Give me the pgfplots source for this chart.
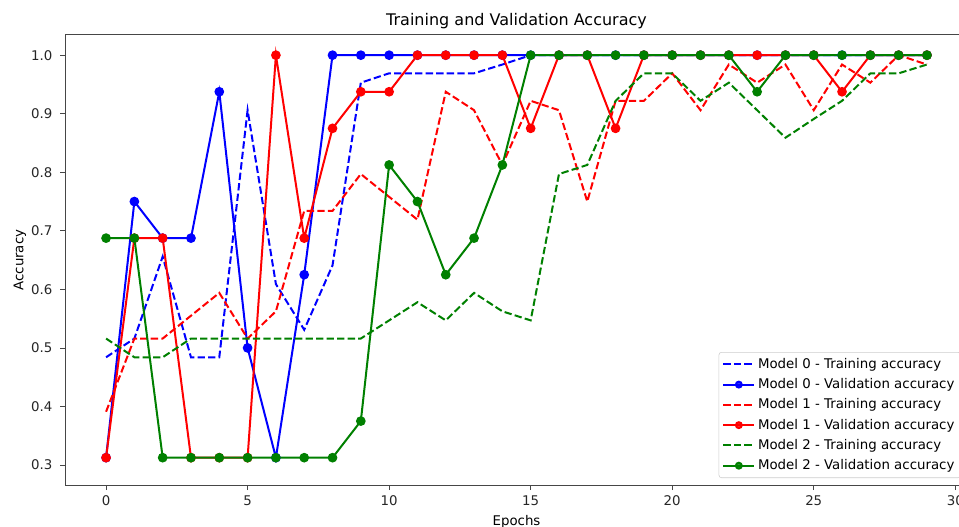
\documentclass[border=0pt]{standalone}
\usepackage{pgfplots}
\pgfplotsset{compat=1.18}
\usepackage{fontspec}
\setmainfont{DejaVu Sans}
\definecolor{mplgreen}{RGB}{0,128,0}
\definecolor{spine}{RGB}{70,70,70}
\begin{document}
\begin{tikzpicture}
\begin{axis}[
  scale only axis, width=677pt, height=338pt,
  xmin=-1.45, xmax=30.45, ymin=0.265, ymax=1.035,
  xtick={0,5,...,30}, ytick={0.3,0.4,...,1.01},
  /pgf/number format/assume math mode=true,
  yticklabel style={/pgf/number format/fixed,/pgf/number format/fixed zerofill,/pgf/number format/precision=1, xshift=-2.5pt},
  xticklabel style={yshift=-1pt},
  tick label style={font=\fontsize{10}{12}\selectfont, text=black!85},
  tick align=outside, major tick length=3.4pt,
  tick style={spine, line width=0.6pt},
  axis line style={spine, line width=0.6pt},
  xtick pos=bottom, ytick pos=left,
  title={Training and Validation Accuracy},
  title style={at={(axis description cs:0.5,1.012)}, anchor=center, font=\fontsize{12}{14}\selectfont},
  xlabel={Epochs},
  xlabel style={at={(axis description cs:0.5,-0.0665)}, anchor=north, inner sep=0pt, font=\fontsize{10}{12}\selectfont},
  ylabel={Accuracy},
  ylabel style={at={(axis description cs:-0.0499,0.5)}, anchor=center, font=\fontsize{10}{12}\selectfont},
  legend style={at={(axis description cs:1,0)}, anchor=south east, xshift=-5.5pt, yshift=5.6pt,
    font=\fontsize{10}{12}\selectfont, draw=black!20, rounded corners=2pt, fill=white, fill opacity=0.8, text opacity=1,
    row sep=2.1pt, inner sep=2.5pt},
  legend cell align=left,
  legend image code/.code={\draw[mark repeat=2,mark phase=2,#1, mark size=2.2pt] plot coordinates {(0cm,0cm)(0.41cm,0cm)(0.82cm,0cm)};},
  every axis plot/.append style={line width=1.5pt},
]
\addplot[blue, dash pattern=on 5.5pt off 2.4pt] coordinates {
(0,0.484)(1,0.516)(2,0.656)(3,0.484)(4,0.484)(5,0.906)(6,0.609)(7,0.531)(8,0.641)(9,0.953)
(10,0.969)(11,0.969)(12,0.969)(13,0.969)(14,0.984)(15,1.0)(16,1.0)(17,1.0)(18,1.0)(19,1.0)
(20,1.0)(21,1.0)(22,1.0)(23,1.0)(24,1.0)(25,1.0)(26,1.0)(27,1.0)(28,1.0)(29,1.0)};
\addlegendentry{Model 0 - Training accuracy}
\addplot[blue, mark=*, mark size=2.85pt] coordinates {
(0,0.3125)(1,0.75)(2,0.6875)(3,0.6875)(4,0.9375)(5,0.5)(6,0.3125)(7,0.625)(8,1.0)(9,1.0)
(10,1.0)(11,1.0)(12,1.0)(13,1.0)(14,1.0)(15,1.0)(16,1.0)(17,1.0)(18,1.0)(19,1.0)
(20,1.0)(21,1.0)(22,1.0)(23,1.0)(24,1.0)(25,1.0)(26,1.0)(27,1.0)(28,1.0)(29,1.0)};
\addlegendentry{Model 0 - Validation accuracy}
\addplot[red, dash pattern=on 5.5pt off 2.4pt] coordinates {
(0,0.391)(1,0.516)(2,0.516)(3,0.555)(4,0.594)(5,0.516)(6,0.5625)(7,0.734)(8,0.734)(9,0.797)
(10,0.758)(11,0.719)(12,0.9375)(13,0.906)(14,0.8125)(15,0.922)(16,0.906)(17,0.75)(18,0.922)(19,0.922)
(20,0.969)(21,0.906)(22,0.984)(23,0.953)(24,0.984)(25,0.906)(26,0.984)(27,0.953)(28,1.0)(29,0.984)};
\addlegendentry{Model 1 - Training accuracy}
\addplot[red, mark=*, mark size=2.85pt] coordinates {
(0,0.3125)(1,0.6875)(2,0.6875)(3,0.3125)(4,0.3125)(5,0.3125)(6,1.0)(7,0.6875)(8,0.875)(9,0.9375)
(10,0.9375)(11,1.0)(12,1.0)(13,1.0)(14,1.0)(15,0.875)(16,1.0)(17,1.0)(18,0.875)(19,1.0)
(20,1.0)(21,1.0)(22,1.0)(23,1.0)(24,1.0)(25,1.0)(26,0.9375)(27,1.0)(28,1.0)(29,1.0)};
\addlegendentry{Model 1 - Validation accuracy}
\addplot[mplgreen, dash pattern=on 5.5pt off 2.4pt] coordinates {
(0,0.516)(1,0.484)(2,0.484)(3,0.516)(4,0.516)(5,0.516)(6,0.516)(7,0.516)(8,0.516)(9,0.516)
(10,0.547)(11,0.578)(12,0.547)(13,0.594)(14,0.5625)(15,0.547)(16,0.797)(17,0.8125)(18,0.922)(19,0.969)
(20,0.969)(21,0.922)(22,0.953)(23,0.906)(24,0.859)(25,0.891)(26,0.922)(27,0.969)(28,0.969)(29,0.984)};
\addlegendentry{Model 2 - Training accuracy}
\addplot[mplgreen, mark=*, mark size=2.85pt] coordinates {
(0,0.6875)(1,0.6875)(2,0.3125)(3,0.3125)(4,0.3125)(5,0.3125)(6,0.3125)(7,0.3125)(8,0.3125)(9,0.375)
(10,0.8125)(11,0.75)(12,0.625)(13,0.6875)(14,0.8125)(15,1.0)(16,1.0)(17,1.0)(18,1.0)(19,1.0)
(20,1.0)(21,1.0)(22,1.0)(23,0.9375)(24,1.0)(25,1.0)(26,1.0)(27,1.0)(28,1.0)(29,1.0)};
\addlegendentry{Model 2 - Validation accuracy}
\end{axis}
\pgfresetboundingbox
\path[use as bounding box] ([xshift=-48.75pt,yshift=-30.4pt]current axis.south west) rectangle ([xshift=-6.75pt,yshift=26pt]current axis.north east);
\end{tikzpicture}
\end{document}
